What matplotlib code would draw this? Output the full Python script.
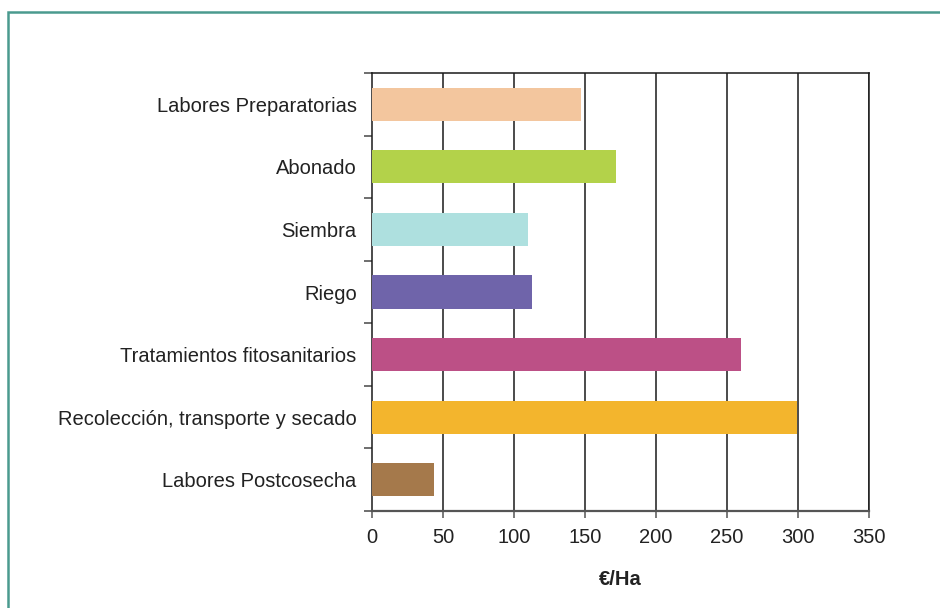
import matplotlib.pyplot as plt
from matplotlib.patches import Rectangle

plt.rcParams['font.family'] = ['Liberation Sans', 'DejaVu Sans']

categories = [
    "Labores Preparatorias",
    "Abonado",
    "Siembra",
    "Riego",
    "Tratamientos fitosanitarios",
    "Recolección, transporte y secado",
    "Labores Postcosecha",
]
values = [147, 172, 110, 113, 260, 299, 44]
colors = ["#F3C69E", "#B3D24A", "#AEE0DF", "#6F64AA", "#BC5086", "#F3B52D", "#A5794B"]
xticks = [0, 50, 100, 150, 200, 250, 300, 350]

fig = plt.figure(figsize=(9.4, 6.08), dpi=100)
ax = fig.add_axes([372 / 940, 1 - 511 / 608, 497 / 940, 438 / 608])

# outer teal frame (cut off at right and bottom like the source)
fig.patches.append(Rectangle((8 / 940, -0.05), 1.2, 1 - 12 / 608 + 0.05,
                             transform=fig.transFigure, fill=False,
                             edgecolor="#4A9A8F", linewidth=1.8))

ypos = list(range(len(categories)))
ax.barh(ypos, values, height=0.53, color=colors, zorder=3)

ax.set_xlim(0, 350)
ax.set_ylim(len(categories) - 0.5, -0.5)
ax.set_xticks(xticks)
ax.set_xticklabels([str(t) for t in xticks], fontsize=14.5, color="#222222")
for t in xticks[1:]:
    ax.axvline(t, color="#1a1a1a", linewidth=1.1, zorder=1)

# category labels at bar centres, ticks at boundaries
ax.set_yticks(ypos)
ax.set_yticklabels(categories, fontsize=14.5, color="#222222")
ax.tick_params(axis="y", which="major", length=0, pad=11)
ax.set_yticks([i - 0.5 for i in range(len(categories) + 1)], minor=True)
ax.tick_params(axis="y", which="minor", length=6, width=1.2, color="#555555")
ax.tick_params(axis="x", length=5, width=1.1, color="#555555", pad=7)

for s in ["left", "top", "right"]:
    ax.spines[s].set_color("#1a1a1a")
    ax.spines[s].set_linewidth(1.1)
ax.spines["bottom"].set_color("#555555")
ax.spines["bottom"].set_linewidth(1.6)

ax.set_xlabel("€/Ha", fontsize=14.5, fontweight="bold", color="#222222", labelpad=17)

fig.savefig("out.png", dpi=100)
